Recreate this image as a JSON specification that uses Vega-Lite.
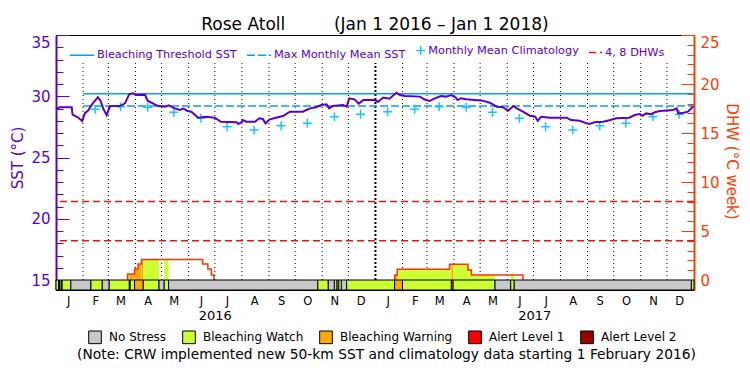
{
  "$schema": "https://vega.github.io/schema/vega-lite/v6.json",
  "width": 638,
  "height": 255,
  "autosize": {"type": "none"},
  "padding": {"left": 56, "top": 35, "right": 56, "bottom": 85},
  "background": "white",
  "config": {
    "font": "DejaVu Sans",
    "view": {"stroke": "black", "strokeWidth": 1},
    "locale": {
      "number": {"decimal": ".", "thousands": ",", "grouping": [3], "currency": ["$", ""]},
      "time": {
        "dateTime": "%x, %X", "date": "%-m/%-d/%Y", "time": "%-I:%M:%S %p", "periods": ["AM", "PM"],
        "days": ["Sunday", "Monday", "Tuesday", "Wednesday", "Thursday", "Friday", "Saturday"],
        "shortDays": ["Sun", "Mon", "Tue", "Wed", "Thu", "Fri", "Sat"],
        "months": ["January", "February", "March", "April", "May", "June", "July", "August", "September", "October", "November", "December"],
        "shortMonths": ["J", "F", "M", "A", "M", "J", "J", "A", "S", "O", "N", "D"]
      }
    }
  },
  "title": {
    "text": "Rose Atoll\u00a0\u00a0\u00a0\u00a0\u00a0\u00a0\u00a0\u00a0\u00a0(Jan 1 2016 \u2013 Jan 1 2018)",
    "fontSize": 17, "fontWeight": "normal", "color": "black", "anchor": "middle", "offset": 1
  },
  "datasets": {
    "months": [
      {"date": "2016-02-01"}, {"date": "2016-03-01"}, {"date": "2016-04-01"}, {"date": "2016-05-01"},
      {"date": "2016-06-01"}, {"date": "2016-07-01"}, {"date": "2016-08-01"}, {"date": "2016-09-01"},
      {"date": "2016-10-01"}, {"date": "2016-11-01"}, {"date": "2016-12-01"},
      {"date": "2017-02-01"}, {"date": "2017-03-01"}, {"date": "2017-04-01"}, {"date": "2017-05-01"},
      {"date": "2017-06-01"}, {"date": "2017-07-01"}, {"date": "2017-08-01"}, {"date": "2017-09-01"},
      {"date": "2017-10-01"}, {"date": "2017-11-01"}, {"date": "2017-12-01"}
    ],
    "years": [{"date": "2017-01-01"}],
    "thresholds": [
      {"name": "Bleaching Threshold SST", "start": "2016-02-01", "end": "2018-01-01", "sst": 30.2},
      {"name": "Max Monthly Mean SST", "start": "2016-02-01", "end": "2018-01-01", "sst": 29.2}
    ],
    "clim": [
      {"date": "2016-02-15", "sst": 28.93}, {"date": "2016-03-15", "sst": 29.15}, {"date": "2016-04-15", "sst": 29.1},
      {"date": "2016-05-15", "sst": 28.69}, {"date": "2016-06-15", "sst": 28.2}, {"date": "2016-07-15", "sst": 27.52},
      {"date": "2016-08-15", "sst": 27.24}, {"date": "2016-09-15", "sst": 27.6}, {"date": "2016-10-15", "sst": 27.79},
      {"date": "2016-11-15", "sst": 28.33}, {"date": "2016-12-15", "sst": 28.53}, {"date": "2017-01-15", "sst": 28.74},
      {"date": "2017-02-15", "sst": 28.93}, {"date": "2017-03-15", "sst": 29.15}, {"date": "2017-04-15", "sst": 29.1},
      {"date": "2017-05-15", "sst": 28.69}, {"date": "2017-06-15", "sst": 28.2}, {"date": "2017-07-15", "sst": 27.52},
      {"date": "2017-08-15", "sst": 27.24}, {"date": "2017-09-15", "sst": 27.6}, {"date": "2017-10-15", "sst": 27.79},
      {"date": "2017-11-15", "sst": 28.33}, {"date": "2017-12-15", "sst": 28.53}
    ],
    "sst": [
      {"date": "2016-01-01", "sst": 28.93}, {"date": "2016-01-05", "sst": 29.1}, {"date": "2016-01-19", "sst": 29.1},
      {"date": "2016-01-20", "sst": 28.5}, {"date": "2016-01-26", "sst": 28.28}, {"date": "2016-01-31", "sst": 27.98},
      {"date": "2016-02-03", "sst": 28.6}, {"date": "2016-02-07", "sst": 28.85}, {"date": "2016-02-12", "sst": 29.42},
      {"date": "2016-02-18", "sst": 29.91}, {"date": "2016-02-21", "sst": 29.64}, {"date": "2016-02-24", "sst": 29.01},
      {"date": "2016-02-28", "sst": 28.47}, {"date": "2016-03-03", "sst": 29.2}, {"date": "2016-03-14", "sst": 29.2},
      {"date": "2016-03-20", "sst": 29.42}, {"date": "2016-03-25", "sst": 30.18}, {"date": "2016-03-29", "sst": 30.24},
      {"date": "2016-04-02", "sst": 30.1}, {"date": "2016-04-12", "sst": 30.13}, {"date": "2016-04-15", "sst": 29.64},
      {"date": "2016-04-21", "sst": 29.42}, {"date": "2016-04-27", "sst": 29.2}, {"date": "2016-05-05", "sst": 29.15},
      {"date": "2016-05-09", "sst": 29.26}, {"date": "2016-05-16", "sst": 29.01}, {"date": "2016-05-22", "sst": 28.88},
      {"date": "2016-05-26", "sst": 29.0}, {"date": "2016-05-30", "sst": 28.82}, {"date": "2016-06-04", "sst": 28.74},
      {"date": "2016-06-12", "sst": 28.25}, {"date": "2016-06-21", "sst": 28.33}, {"date": "2016-07-01", "sst": 28.25},
      {"date": "2016-07-08", "sst": 27.92}, {"date": "2016-07-26", "sst": 27.87}, {"date": "2016-07-28", "sst": 27.73},
      {"date": "2016-08-01", "sst": 27.92}, {"date": "2016-08-02", "sst": 28.06}, {"date": "2016-08-06", "sst": 27.92},
      {"date": "2016-08-16", "sst": 27.92}, {"date": "2016-08-21", "sst": 28.2}, {"date": "2016-08-25", "sst": 28.15},
      {"date": "2016-08-28", "sst": 27.79}, {"date": "2016-09-02", "sst": 28.12}, {"date": "2016-09-09", "sst": 28.25},
      {"date": "2016-09-17", "sst": 28.38}, {"date": "2016-09-25", "sst": 28.74}, {"date": "2016-10-10", "sst": 28.74},
      {"date": "2016-10-14", "sst": 28.88}, {"date": "2016-10-18", "sst": 29.01}, {"date": "2016-10-25", "sst": 29.1},
      {"date": "2016-10-31", "sst": 29.28}, {"date": "2016-11-06", "sst": 29.34}, {"date": "2016-11-09", "sst": 29.01},
      {"date": "2016-11-13", "sst": 29.2}, {"date": "2016-11-25", "sst": 29.28}, {"date": "2016-11-29", "sst": 29.15},
      {"date": "2016-12-02", "sst": 29.83}, {"date": "2016-12-08", "sst": 29.75}, {"date": "2016-12-13", "sst": 29.4},
      {"date": "2016-12-18", "sst": 29.69}, {"date": "2016-12-31", "sst": 29.69}, {"date": "2017-01-04", "sst": 29.55},
      {"date": "2017-01-10", "sst": 29.9}, {"date": "2017-01-17", "sst": 29.8}, {"date": "2017-01-25", "sst": 30.29},
      {"date": "2017-01-29", "sst": 30.1}, {"date": "2017-02-04", "sst": 30.02}, {"date": "2017-02-21", "sst": 29.97},
      {"date": "2017-02-26", "sst": 29.75}, {"date": "2017-03-04", "sst": 29.61}, {"date": "2017-03-10", "sst": 29.83},
      {"date": "2017-03-17", "sst": 30.02}, {"date": "2017-03-23", "sst": 29.97}, {"date": "2017-03-29", "sst": 30.1},
      {"date": "2017-04-03", "sst": 29.9}, {"date": "2017-04-05", "sst": 29.69}, {"date": "2017-04-09", "sst": 29.83},
      {"date": "2017-04-15", "sst": 29.75}, {"date": "2017-04-25", "sst": 29.69}, {"date": "2017-05-04", "sst": 29.64},
      {"date": "2017-05-12", "sst": 29.47}, {"date": "2017-05-20", "sst": 29.15}, {"date": "2017-05-27", "sst": 29.1},
      {"date": "2017-06-02", "sst": 28.82}, {"date": "2017-06-08", "sst": 29.2}, {"date": "2017-06-12", "sst": 29.0},
      {"date": "2017-06-19", "sst": 28.74}, {"date": "2017-06-27", "sst": 28.41}, {"date": "2017-07-03", "sst": 28.33},
      {"date": "2017-07-06", "sst": 28.0}, {"date": "2017-07-10", "sst": 28.33}, {"date": "2017-07-20", "sst": 28.25},
      {"date": "2017-08-08", "sst": 28.25}, {"date": "2017-08-13", "sst": 28.06}, {"date": "2017-08-23", "sst": 28.0},
      {"date": "2017-08-31", "sst": 27.79}, {"date": "2017-09-03", "sst": 27.73}, {"date": "2017-09-09", "sst": 27.87},
      {"date": "2017-09-19", "sst": 27.92}, {"date": "2017-09-27", "sst": 28.06}, {"date": "2017-10-04", "sst": 28.2},
      {"date": "2017-10-19", "sst": 28.25}, {"date": "2017-10-25", "sst": 28.47}, {"date": "2017-10-31", "sst": 28.55},
      {"date": "2017-11-03", "sst": 28.4}, {"date": "2017-11-07", "sst": 28.6}, {"date": "2017-11-13", "sst": 28.53},
      {"date": "2017-11-17", "sst": 28.69}, {"date": "2017-11-23", "sst": 28.8}, {"date": "2017-12-08", "sst": 28.88},
      {"date": "2017-12-12", "sst": 29.01}, {"date": "2017-12-14", "sst": 28.6}, {"date": "2017-12-20", "sst": 28.65},
      {"date": "2017-12-25", "sst": 28.74}, {"date": "2017-12-29", "sst": 29.01}, {"date": "2017-12-31", "sst": 29.2}
    ],
    "dhwlines": [{"dhw": 4}, {"dhw": 8}],
    "dhw": [
      {"episode": 1, "seq": 1, "date": "2016-03-23", "dhw": 0},
      {"episode": 1, "seq": 2, "date": "2016-03-23", "dhw": 0.6},
      {"episode": 1, "seq": 3, "date": "2016-03-31", "dhw": 1.12},
      {"episode": 1, "seq": 4, "date": "2016-04-04", "dhw": 1.63},
      {"episode": 1, "seq": 5, "date": "2016-04-08", "dhw": 2.1},
      {"episode": 1, "seq": 6, "date": "2016-06-17", "dhw": 1.63},
      {"episode": 1, "seq": 7, "date": "2016-06-23", "dhw": 1.12},
      {"episode": 1, "seq": 8, "date": "2016-06-27", "dhw": 0.5},
      {"episode": 1, "seq": 9, "date": "2016-06-30", "dhw": 0},
      {"episode": 2, "seq": 1, "date": "2017-01-23", "dhw": 0},
      {"episode": 2, "seq": 2, "date": "2017-01-23", "dhw": 0.51},
      {"episode": 2, "seq": 3, "date": "2017-01-26", "dhw": 1.09},
      {"episode": 2, "seq": 4, "date": "2017-03-27", "dhw": 1.6},
      {"episode": 2, "seq": 5, "date": "2017-04-17", "dhw": 1.02},
      {"episode": 2, "seq": 6, "date": "2017-04-21", "dhw": 0.51},
      {"episode": 2, "seq": 7, "date": "2017-06-19", "dhw": 0}
    ],
    "dhwfill": [
      {"start": "2016-03-23", "end": "2016-03-25", "dhw": 0.6, "level": "Bleaching Watch"},
      {"start": "2016-03-25", "end": "2016-03-31", "dhw": 0.6, "level": "Bleaching Warning"},
      {"start": "2016-03-31", "end": "2016-04-04", "dhw": 1.12, "level": "Bleaching Warning"},
      {"start": "2016-04-04", "end": "2016-04-08", "dhw": 1.63, "level": "Bleaching Warning"},
      {"start": "2016-04-08", "end": "2016-04-10", "dhw": 2.1, "level": "Bleaching Warning"},
      {"start": "2016-04-10", "end": "2016-04-28", "dhw": 2.1, "level": "Bleaching Watch"},
      {"start": "2016-05-04", "end": "2016-05-09", "dhw": 2.1, "level": "Bleaching Watch"},
      {"start": "2017-01-23", "end": "2017-01-26", "dhw": 0.51, "level": "Bleaching Warning"},
      {"start": "2017-01-26", "end": "2017-03-27", "dhw": 1.09, "level": "Bleaching Watch"},
      {"start": "2017-03-27", "end": "2017-03-29", "dhw": 1.6, "level": "Bleaching Watch"},
      {"start": "2017-03-29", "end": "2017-03-31", "dhw": 1.6, "level": "Bleaching Warning"},
      {"start": "2017-03-31", "end": "2017-04-17", "dhw": 1.6, "level": "Bleaching Watch"},
      {"start": "2017-04-17", "end": "2017-04-21", "dhw": 1.02, "level": "Bleaching Watch"},
      {"start": "2017-04-21", "end": "2017-05-18", "dhw": 0.51, "level": "Bleaching Watch"},
      {"start": "2017-06-05", "end": "2017-06-09", "dhw": 0.51, "level": "Bleaching Watch"}
    ],
    "strip": [
      {"start": "2016-01-01", "end": "2016-01-04", "level": "Bleaching Watch"},
      {"start": "2016-01-04", "end": "2016-01-05", "level": "No Stress"},
      {"start": "2016-01-05", "end": "2016-01-07", "level": "Bleaching Watch"},
      {"start": "2016-01-07", "end": "2016-01-08", "level": "No Stress"},
      {"start": "2016-01-08", "end": "2016-01-18", "level": "Bleaching Watch"},
      {"start": "2016-01-18", "end": "2016-02-10", "level": "No Stress"},
      {"start": "2016-02-10", "end": "2016-02-23", "level": "Bleaching Watch"},
      {"start": "2016-02-23", "end": "2016-03-02", "level": "No Stress"},
      {"start": "2016-03-02", "end": "2016-03-25", "level": "Bleaching Watch"},
      {"start": "2016-03-25", "end": "2016-03-26", "level": "Bleaching Warning"},
      {"start": "2016-03-26", "end": "2016-03-31", "level": "Bleaching Watch"},
      {"start": "2016-03-31", "end": "2016-04-10", "level": "Bleaching Warning"},
      {"start": "2016-04-10", "end": "2016-04-28", "level": "Bleaching Watch"},
      {"start": "2016-04-28", "end": "2016-05-04", "level": "No Stress"},
      {"start": "2016-05-04", "end": "2016-05-09", "level": "Bleaching Watch"},
      {"start": "2016-05-09", "end": "2016-10-27", "level": "No Stress"},
      {"start": "2016-10-27", "end": "2016-11-08", "level": "Bleaching Watch"},
      {"start": "2016-11-08", "end": "2016-11-15", "level": "No Stress"},
      {"start": "2016-11-15", "end": "2016-11-18", "level": "Bleaching Watch"},
      {"start": "2016-11-18", "end": "2016-11-20", "level": "No Stress"},
      {"start": "2016-11-20", "end": "2016-11-23", "level": "Bleaching Watch"},
      {"start": "2016-11-23", "end": "2016-11-29", "level": "No Stress"},
      {"start": "2016-11-29", "end": "2017-01-23", "level": "Bleaching Watch"},
      {"start": "2017-01-23", "end": "2017-02-01", "level": "Bleaching Warning"},
      {"start": "2017-02-01", "end": "2017-03-29", "level": "Bleaching Watch"},
      {"start": "2017-03-29", "end": "2017-03-31", "level": "Bleaching Warning"},
      {"start": "2017-03-31", "end": "2017-05-18", "level": "Bleaching Watch"},
      {"start": "2017-05-18", "end": "2017-06-05", "level": "No Stress"},
      {"start": "2017-06-05", "end": "2017-06-09", "level": "Bleaching Watch"},
      {"start": "2017-06-09", "end": "2017-12-29", "level": "No Stress"},
      {"start": "2017-12-29", "end": "2018-01-01", "level": "Bleaching Watch"}
    ]
  },
  "layer": [
    {
      "data": {"name": "months"},
      "mark": {"type": "rule", "color": "black", "strokeWidth": 1, "strokeDash": [1, 3]},
      "encoding": {
        "x": {
          "field": "date", "type": "temporal",
          "scale": {"type": "utc", "domain": [{"year": 2016, "month": 1, "date": 1, "utc": true}, {"year": 2018, "month": 1, "date": 1, "utc": true}]},
          "axis": {
            "orient": "bottom",
            "values": [1452816000000, 1455494400000, 1458000000000, 1460678400000, 1463270400000, 1465948800000,
                       1468540800000, 1471219200000, 1473897600000, 1476489600000, 1479168000000, 1481760000000,
                       1484438400000, 1487116800000, 1489536000000, 1492214400000, 1494806400000, 1497484800000,
                       1500076800000, 1502755200000, 1505433600000, 1508025600000, 1510704000000, 1513296000000],
            "format": "%b",
            "ticks": false, "domain": false, "grid": false,
            "labelPadding": 5, "labelFontSize": 11.5, "labelColor": "black",
            "labelOverlap": false, "labelFlush": false, "title": null
          }
        },
        "y": {
          "datum": 15, "type": "quantitative",
          "scale": {"domain": [14.1837, 35], "nice": false, "zero": false},
          "axis": {
            "orient": "left",
            "values": [15, 20, 25, 30, 35],
            "tickSize": -13, "tickColor": "#5a00c8", "tickWidth": 1,
            "domainColor": "#5a00c8", "domainWidth": 2,
            "labelColor": "#5a00c8", "labelFontSize": 15, "labelPadding": 19,
            "labelFlush": true, "labelOverlap": false, "grid": false,
            "title": "SST (\u00b0C)", "titleColor": "#5a00c8", "titleFontSize": 15, "titleFontWeight": "normal",
            "titleX": -38.5, "titleY": 122.5, "titleAngle": -90, "titleBaseline": "middle", "titleAlign": "center"
          }
        },
        "y2": {"datum": 32.71}
      }
    },
    {
      "data": {"name": "years"},
      "mark": {"type": "rule", "color": "black", "strokeWidth": 2, "strokeDash": [2, 2]},
      "encoding": {
        "x": {
          "field": "date", "type": "temporal", "axis": null,
          "scale": {"type": "utc", "domain": [{"year": 2016, "month": 1, "date": 1, "utc": true}, {"year": 2018, "month": 1, "date": 1, "utc": true}]}
        },
        "y": {
          "datum": 15, "type": "quantitative",
          "scale": {"domain": [14.1837, 35], "nice": false, "zero": false},
          "axis": {
            "orient": "left",
            "values": [16, 17, 18, 19, 21, 22, 23, 24, 26, 27, 28, 29, 31, 32, 33, 34],
            "tickSize": -7, "tickColor": "#5a00c8", "tickWidth": 1,
            "domain": false, "labels": false, "grid": false, "title": null
          }
        },
        "y2": {"datum": 32.71}
      }
    },
    {
      "data": {"name": "thresholds"},
      "mark": {"type": "rule", "strokeWidth": 1.5},
      "encoding": {
        "x": {
          "field": "start", "type": "temporal", "axis": null,
          "scale": {"type": "utc", "domain": [{"year": 2016, "month": 1, "date": 1, "utc": true}, {"year": 2018, "month": 1, "date": 1, "utc": true}]}
        },
        "x2": {"field": "end"},
        "y": {"field": "sst", "type": "quantitative", "axis": null, "scale": {"domain": [14.1837, 35], "nice": false, "zero": false}},
        "strokeDash": {
          "field": "name", "type": "nominal",
          "scale": {"domain": ["Bleaching Threshold SST", "Max Monthly Mean SST", "Monthly Mean Climatology", "4, 8 DHWs"], "range": [[1, 0], [8, 3], [1, 0], [7, 4]]},
          "legend": {"orient": "none", "legendX": 13, "legendY": 7, "direction": "horizontal", "title": null, "labelFontSize": 11.3, "labelColor": "#5a00c8", "labelLimit": 400, "symbolStrokeWidth": 1.5, "columnPadding": 7, "padding": 0, "labelOffset": 2,
            "encode": {"labels": {"update": {"fill": {"condition": {"test": "datum.value === '4, 8 DHWs'", "value": "#ff3c00"}, "value": "#5a00c8"}}}}}
        },
        "color": {
          "field": "name", "type": "nominal",
          "scale": {"domain": ["Bleaching Threshold SST", "Max Monthly Mean SST", "Monthly Mean Climatology", "4, 8 DHWs"], "range": ["#0a9bff", "#0a9bff", "#14c8ff", "#ee1111"]},
          "legend": {"orient": "none", "legendX": 13, "legendY": 7, "direction": "horizontal", "title": null, "labelFontSize": 11.3, "labelColor": "#5a00c8", "labelLimit": 400, "symbolStrokeWidth": 1.5, "columnPadding": 7, "padding": 0, "labelOffset": 2,
            "encode": {"labels": {"update": {"fill": {"condition": {"test": "datum.value === '4, 8 DHWs'", "value": "#ff3c00"}, "value": "#5a00c8"}}}}}
        }
      }
    },
    {
      "data": {"name": "clim"},
      "mark": {"type": "point", "filled": false, "strokeWidth": 1.5, "opacity": 1},
      "encoding": {
        "x": {
          "field": "date", "type": "temporal", "axis": null,
          "scale": {"type": "utc", "domain": [{"year": 2016, "month": 1, "date": 1, "utc": true}, {"year": 2018, "month": 1, "date": 1, "utc": true}]}
        },
        "y": {"field": "sst", "type": "quantitative", "axis": null, "scale": {"domain": [14.1837, 35], "nice": false, "zero": false}},
        "color": {
          "datum": "Monthly Mean Climatology",
          "scale": {"domain": ["Bleaching Threshold SST", "Max Monthly Mean SST", "Monthly Mean Climatology", "4, 8 DHWs"], "range": ["#0a9bff", "#0a9bff", "#14c8ff", "#ee1111"]},
          "legend": {"orient": "none", "legendX": 13, "legendY": 7, "direction": "horizontal", "title": null, "labelFontSize": 11.3, "labelColor": "#5a00c8", "labelLimit": 400, "symbolStrokeWidth": 1.5, "columnPadding": 7, "padding": 0, "labelOffset": 2,
            "encode": {"labels": {"update": {"fill": {"condition": {"test": "datum.value === '4, 8 DHWs'", "value": "#ff3c00"}, "value": "#5a00c8"}}}}}
        },
        "shape": {
          "datum": "Monthly Mean Climatology",
          "scale": {"domain": ["Bleaching Threshold SST", "Max Monthly Mean SST", "Monthly Mean Climatology", "4, 8 DHWs"], "range": ["stroke", "stroke", "M-1,0H1M0,-1V1", "stroke"]},
          "legend": {"orient": "none", "legendX": 13, "legendY": 7, "direction": "horizontal", "title": null, "labelFontSize": 11.3, "labelColor": "#5a00c8", "labelLimit": 400, "symbolStrokeWidth": 1.5, "columnPadding": 7, "padding": 0, "labelOffset": 2,
            "encode": {"labels": {"update": {"fill": {"condition": {"test": "datum.value === '4, 8 DHWs'", "value": "#ff3c00"}, "value": "#5a00c8"}}}}}
        },
        "size": {
          "datum": "Monthly Mean Climatology", "type": "nominal",
          "scale": {"type": "ordinal", "domain": ["Bleaching Threshold SST", "Max Monthly Mean SST", "Monthly Mean Climatology", "4, 8 DHWs"], "range": [576, 576, 81, 169]},
          "legend": {"orient": "none", "legendX": 13, "legendY": 7, "direction": "horizontal", "title": null, "labelFontSize": 11.3, "labelColor": "#5a00c8", "labelLimit": 400, "symbolStrokeWidth": 1.5, "columnPadding": 7, "padding": 0, "labelOffset": 2,
            "encode": {"labels": {"update": {"fill": {"condition": {"test": "datum.value === '4, 8 DHWs'", "value": "#ff3c00"}, "value": "#5a00c8"}}}}}
        }
      }
    },
    {
      "data": {"name": "sst"},
      "mark": {"type": "line", "color": "#5a00c8", "strokeWidth": 2},
      "encoding": {
        "x": {
          "field": "date", "type": "temporal", "axis": null,
          "scale": {"type": "utc", "domain": [{"year": 2016, "month": 1, "date": 1, "utc": true}, {"year": 2018, "month": 1, "date": 1, "utc": true}]}
        },
        "y": {"field": "sst", "type": "quantitative", "axis": null, "scale": {"domain": [14.1837, 35], "nice": false, "zero": false}}
      }
    },
    {
      "data": {"name": "dhwlines"},
      "mark": {"type": "rule", "strokeWidth": 1.5},
      "encoding": {
        "y": {
          "field": "dhw", "type": "quantitative",
          "scale": {"domain": [-1.0204, 25], "nice": false, "zero": false},
          "axis": {
            "orient": "right",
            "values": [0, 5, 10, 15, 20, 25],
            "tickSize": -13, "tickColor": "#ff3c00", "tickWidth": 1,
            "domainColor": "#ff3c00", "domainWidth": 2,
            "labelColor": "#ff3c00", "labelFontSize": 15, "labelPadding": 19,
            "labelFlush": true, "labelOverlap": false, "grid": false,
            "title": "DHW (\u00b0C week)", "titleColor": "#ff3c00", "titleFontSize": 15, "titleFontWeight": "normal",
            "titleX": 37, "titleY": 126, "titleAngle": 90, "titleBaseline": "middle", "titleAlign": "center"
          }
        },
        "color": {
          "datum": "4, 8 DHWs",
          "scale": {"domain": ["Bleaching Threshold SST", "Max Monthly Mean SST", "Monthly Mean Climatology", "4, 8 DHWs"], "range": ["#0a9bff", "#0a9bff", "#14c8ff", "#ee1111"]},
          "legend": {"orient": "none", "legendX": 13, "legendY": 7, "direction": "horizontal", "title": null, "labelFontSize": 11.3, "labelColor": "#5a00c8", "labelLimit": 400, "symbolStrokeWidth": 1.5, "columnPadding": 7, "padding": 0, "labelOffset": 2,
            "encode": {"labels": {"update": {"fill": {"condition": {"test": "datum.value === '4, 8 DHWs'", "value": "#ff3c00"}, "value": "#5a00c8"}}}}}
        },
        "strokeDash": {
          "datum": "4, 8 DHWs",
          "scale": {"domain": ["Bleaching Threshold SST", "Max Monthly Mean SST", "Monthly Mean Climatology", "4, 8 DHWs"], "range": [[1, 0], [8, 3], [1, 0], [7, 4]]},
          "legend": {"orient": "none", "legendX": 13, "legendY": 7, "direction": "horizontal", "title": null, "labelFontSize": 11.3, "labelColor": "#5a00c8", "labelLimit": 400, "symbolStrokeWidth": 1.5, "columnPadding": 7, "padding": 0, "labelOffset": 2,
            "encode": {"labels": {"update": {"fill": {"condition": {"test": "datum.value === '4, 8 DHWs'", "value": "#ff3c00"}, "value": "#5a00c8"}}}}}
        }
      }
    },
    {
      "data": {"name": "dhwfill"},
      "mark": {"type": "rect"},
      "encoding": {
        "x": {
          "field": "start", "type": "temporal", "axis": null,
          "scale": {"type": "utc", "domain": [{"year": 2016, "month": 1, "date": 1, "utc": true}, {"year": 2018, "month": 1, "date": 1, "utc": true}]}
        },
        "x2": {"field": "end"},
        "y": {
          "field": "dhw", "type": "quantitative",
          "scale": {"domain": [-1.0204, 25], "nice": false, "zero": false},
          "axis": {
            "orient": "right",
            "values": [1, 2, 3, 4, 6, 7, 8, 9, 11, 12, 13, 14, 16, 17, 18, 19, 21, 22, 23, 24],
            "tickSize": -7, "tickColor": "#ff3c00", "tickWidth": 1,
            "domain": false, "labels": false, "grid": false, "title": null
          }
        },
        "y2": {"datum": 0},
        "fill": {
          "field": "level", "type": "nominal",
          "scale": {
            "domain": ["No Stress", "Bleaching Watch", "Bleaching Warning", "Alert Level 1", "Alert Level 2"],
            "range": ["#c8c8c8", "#ccff33", "#ffaa00", "#ff0000", "#990000"]
          },
          "legend": {
            "orient": "none", "legendX": 32, "legendY": 295, "direction": "horizontal", "title": null,
            "labelFontSize": 12, "labelColor": "black", "labelLimit": 400,
            "symbolType": "square", "symbolSize": 160,
            "symbolStrokeColor": "black", "symbolStrokeWidth": 1, "symbolOpacity": 1,
            "columnPadding": 13, "labelOffset": 7, "padding": 0
          }
        }
      }
    },
    {
      "data": {"name": "dhw"},
      "mark": {"type": "line", "interpolate": "step-after", "color": "#ff3300", "strokeWidth": 1.5},
      "encoding": {
        "x": {
          "field": "date", "type": "temporal",
          "scale": {"type": "utc", "domain": [{"year": 2016, "month": 1, "date": 1, "utc": true}, {"year": 2018, "month": 1, "date": 1, "utc": true}]},
          "axis": {
            "orient": "bottom",
            "values": [1467331200000, 1498953600000],
            "format": "%Y",
            "ticks": false, "domain": false, "grid": false,
            "labelPadding": 19, "labelFontSize": 13, "labelColor": "black",
            "labelOverlap": false, "labelFlush": false,
            "title": "(Note: CRW implemented new 50-km SST and climatology data starting 1 February 2016)",
            "titleFontSize": 13.8, "titleFontWeight": "normal", "titleColor": "black",
            "titleX": 330, "titleY": 64, "titleBaseline": "middle", "titleAlign": "center"
          }
        },
        "y": {"field": "dhw", "type": "quantitative", "axis": null, "scale": {"domain": [-1.0204, 25], "nice": false, "zero": false}},
        "detail": {"field": "episode", "type": "nominal"},
        "order": {"field": "seq", "type": "quantitative"}
      }
    },
    {
      "data": {"name": "strip"},
      "mark": {"type": "rect", "stroke": "black", "strokeWidth": 1},
      "encoding": {
        "x": {
          "field": "start", "type": "temporal", "axis": null,
          "scale": {"type": "utc", "domain": [{"year": 2016, "month": 1, "date": 1, "utc": true}, {"year": 2018, "month": 1, "date": 1, "utc": true}]}
        },
        "x2": {"field": "end"},
        "y": {"datum": 0, "type": "quantitative", "axis": null, "scale": {"domain": [-1.0204, 25], "nice": false, "zero": false}},
        "y2": {"datum": -1.0204},
        "fill": {
          "field": "level", "type": "nominal",
          "scale": {
            "domain": ["No Stress", "Bleaching Watch", "Bleaching Warning", "Alert Level 1", "Alert Level 2"],
            "range": ["#c8c8c8", "#ccff33", "#ffaa00", "#ff0000", "#990000"]
          },
          "legend": {
            "orient": "none", "legendX": 32, "legendY": 295, "direction": "horizontal", "title": null,
            "labelFontSize": 12, "labelColor": "black", "labelLimit": 400,
            "symbolType": "square", "symbolSize": 160,
            "symbolStrokeColor": "black", "symbolStrokeWidth": 1, "symbolOpacity": 1,
            "columnPadding": 13, "labelOffset": 7, "padding": 0
          }
        }
      }
    }
  ],
  "resolve": {"scale": {"x": "independent", "y": "independent"}}
}
